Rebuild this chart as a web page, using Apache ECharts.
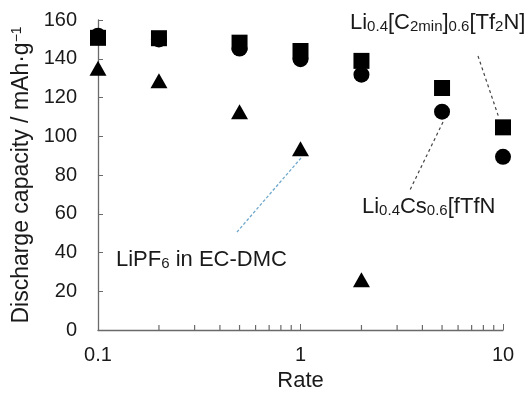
<!DOCTYPE html>
<html>
<head>
<meta charset="utf-8">
<script src="https://cdn.jsdelivr.net/npm/echarts@6/dist/echarts.min.js"></script>
<style>html,body{margin:0;padding:0;background:#fff}#c{width:528px;height:397px}</style>
</head>
<body>
<div id="c"></div>
<script>
const rates = [0.1, 0.2, 0.5, 1, 2, 5, 10];
const c2minSquares = [150.8, 150.6, 148.3, 144, 138.9, 124.9, 104.6];
const csCircles = [151.9, 150.0, 145.3, 139.8, 131.8, 112.7, 89.4];
const lipf6Rates = [0.1, 0.2, 0.5, 1, 2];
const lipf6Triangles = [135.1, 128.6, 112.7, 93.5, 26];
const minorTickValues = [0.2, 0.3, 0.4, 0.5, 0.6, 0.7, 0.8, 0.9, 2, 3, 4, 5, 6, 7, 8, 9];
const yTicks = { min: 0, max: 160, interval: 20 };

const FONT = "'Liberation Sans', Arial, sans-serif";
const AXIS = '#6a6a6a';
const TXT = '#1a1a1a';

const pairs = (xs, ys) => xs.map((x, i) => [x, ys[i]]);

const chart = echarts.init(document.getElementById('c'), null, { renderer: 'canvas' });
chart.setOption({
  animation: false,
  backgroundColor: '#fff',
  grid: { left: 98, right: 25, top: 20, bottom: 62, containLabel: false },
  xAxis: {
    type: 'log', logBase: 10, min: 0.1, max: 10,
    name: 'Rate', nameLocation: 'middle', nameGap: 40,
    nameTextStyle: { fontFamily: FONT, fontSize: 22, color: TXT },
    axisLine: { show: true, lineStyle: { color: AXIS, width: 1.3 } },
    axisTick: { show: true, inside: true, length: 6, lineStyle: { color: AXIS } },
    minorTick: { show: false },
    splitLine: { show: false },
    axisLabel: { fontFamily: FONT, fontSize: 20, color: TXT, margin: 15,
      formatter: v => String(+v.toPrecision(3)) }
  },
  yAxis: {
    type: 'value', min: yTicks.min, max: yTicks.max, interval: yTicks.interval,
    name: 'Discharge capacity / mAh·g{sup|−1}', nameLocation: 'middle', nameGap: 62,
    nameTextStyle: { fontFamily: FONT, fontSize: 23, color: TXT,
      rich: { sup: { fontFamily: FONT, fontSize: 14, color: TXT, verticalAlign: 'top' } } },
    axisLine: { show: true, lineStyle: { color: AXIS, width: 1.3 } },
    axisTick: { show: true, inside: true, length: 5, lineStyle: { color: AXIS } },
    splitLine: { show: false },
    axisLabel: { fontFamily: FONT, fontSize: 20, color: TXT, margin: 21 }
  },
  series: [
    {
      type: 'scatter', name: 'minor ticks', silent: true, z: 5, clip: false,
      symbol: 'rect', symbolSize: [1.2, 5], symbolOffset: [0, -2.5],
      itemStyle: { color: AXIS, opacity: 1 },
      emphasis: { disabled: true },
      data: minorTickValues.map(v => [v, 0])
    },
    {
      type: 'scatter', name: 'Li0.4Cs0.6[fTfN', symbol: 'circle', symbolSize: 16, z: 2,
      itemStyle: { color: '#000', opacity: 1 }, data: pairs(rates, csCircles)
    },
    {
      type: 'scatter', name: 'Li0.4[C2min]0.6[Tf2N]', symbol: 'rect', symbolSize: 16, z: 3,
      itemStyle: { color: '#000', opacity: 1 }, data: pairs(rates, c2minSquares)
    },
    {
      type: 'scatter', name: 'LiPF6 in EC-DMC', symbol: 'triangle', symbolSize: [17, 15], z: 3,
      itemStyle: { color: '#000', opacity: 1 }, data: pairs(lipf6Rates, lipf6Triangles)
    }
  ],
  graphic: [
    { type: 'line', silent: true, shape: { x1: 478, y1: 56, x2: 499, y2: 118 },
      style: { stroke: '#444', lineWidth: 1.2, lineDash: [3, 3] } },
    { type: 'line', silent: true, shape: { x1: 443, y1: 122, x2: 410, y2: 190 },
      style: { stroke: '#444', lineWidth: 1.2, lineDash: [3, 3] } },
    { type: 'line', silent: true, shape: { x1: 301, y1: 158, x2: 237, y2: 232 },
      style: { stroke: '#6fa8cc', lineWidth: 1.3, lineDash: [3, 2] } },
    { type: 'text', silent: true, x: 350, y: 23,
      style: { text: 'Li{s|0.4}[C{s|2min}]{s|0.6}[Tf{s|2}N]', font: '22px ' + FONT, fill: TXT,
        textVerticalAlign: 'middle',
        rich: { s: { fontSize: 15, fontFamily: FONT, fill: TXT, verticalAlign: 'bottom' } } } },
    { type: 'text', silent: true, x: 362, y: 207,
      style: { text: 'Li{s|0.4}Cs{s|0.6}[fTfN', font: '22px ' + FONT, fill: TXT,
        textVerticalAlign: 'middle',
        rich: { s: { fontSize: 15, fontFamily: FONT, fill: TXT, verticalAlign: 'bottom' } } } },
    { type: 'text', silent: true, x: 116, y: 260,
      style: { text: 'LiPF{s|6} in EC-DMC', font: '22px ' + FONT, fill: TXT,
        textVerticalAlign: 'middle',
        rich: { s: { fontSize: 15, fontFamily: FONT, fill: TXT, verticalAlign: 'bottom' } } } }
  ]
});
</script>
</body>
</html>
